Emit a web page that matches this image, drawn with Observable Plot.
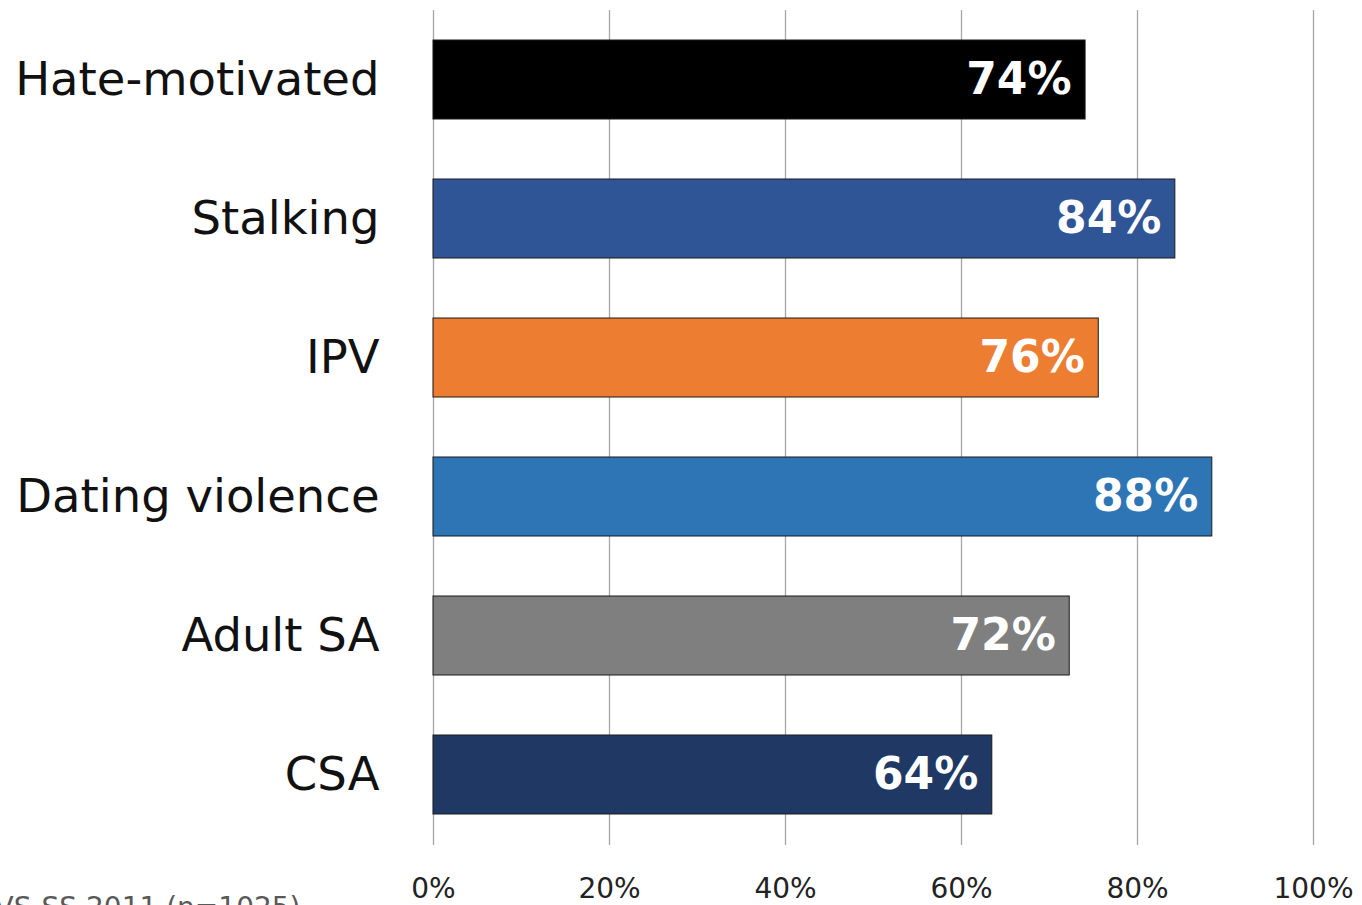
<!DOCTYPE html>
<html>
<head>
<meta charset="utf-8">
<script src="https://cdn.jsdelivr.net/npm/d3@7"></script>
<script src="https://cdn.jsdelivr.net/npm/@observablehq/plot@0.6"></script>
<style>
  html, body { margin: 0; padding: 0; background: #fff; overflow: hidden; }
  svg { display: block; }
</style>
</head>
<body>
<div id="chart"></div>
<script>
const categories = ["Hate-motivated", "Stalking", "IPV", "Dating violence", "Adult SA", "CSA"];
const values = [74.1, 84.3, 75.6, 88.5, 72.3, 63.5];
const valueLabels = ["74%", "84%", "76%", "88%", "72%", "64%"];
const barColors = ["#000000", "#2F5597", "#ED7D31", "#2E75B6", "#7F7F7F", "#203864"];
const xTicks = [0, 20, 40, 60, 80, 100];
const captionText = ["NCVS-SS 2011 (n=1025)"];

const data = categories.map((c, i) => ({category: c, value: values[i], label: valueLabels[i], color: barColors[i]}));

const chart = Plot.plot({
  width: 1362,
  height: 905,
  marginLeft: 433,
  marginRight: 49,
  marginTop: 10,
  marginBottom: 60,
  style: {fontFamily: "'DejaVu Sans', sans-serif", background: "#fff", overflow: "hidden"},
  x: {domain: [0, 100], ticks: xTicks, tickFormat: d => d + "%", tickSize: 0, tickPadding: 33, label: null},
  y: {domain: categories, paddingInner: 0.43, paddingOuter: 0.21, tickSize: 0, tickPadding: 54, label: null},
  marks: [
    Plot.ruleX(xTicks, {x: d => d, stroke: "#a6a6a6", strokeWidth: 1.3}),
    Plot.barX(data, {x: "value", y: "category", fill: "color", stroke: "#1a1a1a", strokeWidth: 1}),
    Plot.text(data, {x: "value", y: "category", text: "label", textAnchor: "end", dx: -14, fill: "white", fontWeight: "bold", fontSize: 44}),
    Plot.axisX({ticks: xTicks, tickFormat: d => d + "%", tickSize: 0, tickPadding: 33, fontSize: 28, fill: "#222", label: null}),
    Plot.axisY({tickSize: 0, tickPadding: 54, fontSize: 46.5, fill: "#111", label: null}),
    Plot.text(captionText, {frameAnchor: "bottom-left", text: d => d, textAnchor: "end", lineAnchor: "top", dx: -133, dy: 52, fontSize: 28, fill: "#595959"})
  ]
});
document.getElementById("chart").appendChild(chart);
</script>
</body>
</html>
